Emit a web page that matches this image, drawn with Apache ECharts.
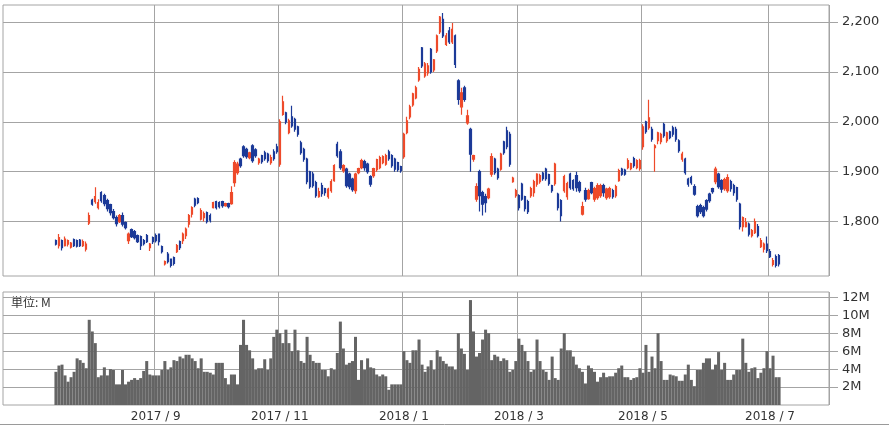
<!DOCTYPE html>
<html>
<head>
<meta charset="utf-8">
<script src="https://cdn.jsdelivr.net/npm/echarts@6/dist/echarts.min.js"></script>
<style>
html,body{margin:0;padding:0;background:#fff;}
#chart{width:889px;height:426px;}
</style>
</head>
<body>
<div id="chart"></div>
<script>
// ---- calendar (Tokyo trading days) ----
const axisStart = '2017-06-21';
const axisCount = 273;
const holidays = ['2017-07-17','2017-08-11','2017-09-18','2017-10-09','2017-11-03','2017-11-23',
  '2018-01-01','2018-01-02','2018-01-03','2018-01-08','2018-02-12','2018-03-21','2018-04-30',
  '2018-05-03','2018-05-04','2018-07-16'];
const firstDate = '2017-07-14';

// ---- tick labels ----
const tickMonths = ['2017-09','2017-11','2018-01','2018-03','2018-05','2018-07'];
const tickLabels = ['2017 / 9','2017 / 11','2018 / 1','2018 / 3','2018 / 5','2018 / 7'];
const priceTicks = [1800,1900,2000,2100,2200];
const volumeTicks = [2,4,6,8,10,12];

// ---- daily prices ----
const open = [
1762,1752,1762,1752,1755,1749,1764,1762,1763,1752,
1745,1797,1843,1840,1828,1858,1852,1842,1834,1820,
1808,1800,1812,1798,1762,1784,1780,1772,1770,1762,
1772,1748,1768,1772,1775,1750,1715,1735,1725,1728,
1740,1760,1762,1772,1795,1815,1845,1846,1805,1808,
1818,1812,1828,1840,1838,1840,1832,1836,1836,1878,
1898,1925,1950,1945,1928,1952,1944,1918,1932,1938,
1935,1918,1940,1950,1915,2015,2018,1978,2010,2005,
1990,1958,1945,1925,1900,1895,1878,1850,1872,1866,
1850,1862,1882,1955,1940,1902,1905,1895,1885,1862,
1898,1908,1920,1915,1890,1892,1904,1908,1918,1915,
1940,1932,1925,1918,1910,1930,1978,2010,2034,2048,
2084,2148,2092,2098,2145,2104,2142,2180,2205,2155,
2182,2160,2172,2082,2030,2068,1998,1985,1925,1845,
1900,1858,1850,1848,1895,1925,1905,1905,1960,1982,
1975,1880,1852,1852,1875,1850,1840,1852,1858,1875,
1880,1897,1905,1894,1872,1876,1855,1842,1862,1850,
1895,1882,1892,1878,1815,1862,1846,1878,1845,1848,
1852,1872,1848,1850,1862,1852,1882,1905,1903,1908,
1906,1926,1908,1906,1950,2000,1988,1985,1948,1962,
1960,1995,1962,1980,1988,1985,1962,1925,1925,1885,
1888,1870,1830,1832,1828,1842,1855,1866,1880,1895,
1882,1866,1862,1880,1872,1868,1835,1790,1790,1795,
1772,1778,1790,1750,1745,1755,1740,1714,1730,1732];
const high = [
1764,1775,1764,1770,1764,1759,1766,1764,1765,1764,
1760,1818,1846,1869,1845,1861,1856,1846,1836,1825,
1812,1815,1818,1800,1778,1786,1783,1774,1772,1765,
1775,1757,1770,1776,1776,1752,1722,1739,1726,1730,
1755,1762,1778,1788,1815,1831,1848,1849,1827,1820,
1820,1816,1840,1842,1841,1842,1838,1838,1871,1923,
1920,1928,1953,1948,1940,1955,1947,1928,1934,1942,
1938,1934,1945,1956,2005,2052,2020,2006,2032,2008,
1992,1962,1948,1928,1902,1900,1882,1868,1878,1868,
1868,1885,1915,1960,1945,1915,1908,1898,1888,1898,
1908,1926,1924,1918,1893,1908,1926,1932,1933,1936,
1944,1935,1928,1920,1912,1978,2010,2034,2058,2072,
2110,2150,2120,2118,2148,2126,2175,2212,2218,2178,
2190,2198,2175,2085,2068,2072,2024,1988,1934,1877,
1904,1862,1856,1868,1937,1928,1908,1938,1962,1990,
1980,1890,1866,1855,1878,1852,1844,1870,1884,1897,
1896,1900,1908,1896,1874,1918,1858,1845,1894,1880,
1898,1885,1900,1882,1840,1868,1866,1880,1870,1877,
1876,1876,1868,1870,1866,1874,1906,1908,1906,1927,
1918,1930,1925,1926,1995,2002,2044,1990,1955,1980,
1978,1998,1980,1982,1992,1990,1965,1940,1928,1888,
1892,1875,1834,1836,1832,1845,1858,1868,1910,1898,
1885,1888,1895,1884,1876,1870,1838,1810,1807,1798,
1785,1806,1795,1767,1758,1770,1745,1727,1734,1735];
const low = [
1752,1746,1742,1750,1750,1746,1749,1748,1749,1749,
1740,1793,1832,1836,1824,1838,1831,1820,1812,1804,
1790,1797,1790,1784,1755,1767,1764,1757,1743,1752,
1757,1741,1755,1758,1752,1736,1712,1716,1708,1712,
1737,1743,1755,1765,1788,1808,1829,1835,1802,1800,
1796,1798,1826,1824,1826,1828,1830,1826,1834,1870,
1894,1908,1928,1926,1925,1918,1928,1914,1916,1922,
1918,1914,1922,1936,1910,2012,1995,1975,1988,1980,
1970,1934,1920,1875,1866,1868,1848,1848,1850,1852,
1846,1858,1880,1928,1904,1898,1868,1865,1860,1856,
1895,1905,1902,1896,1870,1888,1900,1905,1915,1912,
1922,1908,1900,1900,1898,1926,1975,2005,2030,2045,
2080,2108,2088,2092,2096,2100,2138,2176,2168,2152,
2156,2156,2108,2034,2014,2040,1994,1900,1920,1840,
1820,1812,1818,1845,1890,1894,1884,1902,1934,1945,
1910,1878,1848,1822,1842,1820,1815,1848,1850,1870,
1876,1882,1882,1872,1858,1872,1822,1800,1858,1844,
1864,1862,1860,1858,1812,1840,1844,1855,1840,1844,
1848,1850,1844,1846,1846,1848,1880,1892,1892,1905,
1903,1908,1905,1902,1944,1976,1984,1960,1900,1955,
1955,1968,1958,1965,1970,1960,1938,1920,1894,1870,
1874,1852,1808,1815,1808,1820,1838,1856,1875,1866,
1858,1862,1858,1860,1852,1840,1784,1780,1788,1770,
1768,1775,1768,1747,1738,1737,1727,1710,1708,1710];
const close = [
1755,1768,1748,1765,1762,1757,1752,1751,1752,1760,
1755,1812,1835,1850,1838,1842,1836,1826,1818,1808,
1796,1812,1795,1788,1775,1770,1768,1760,1752,1756,
1760,1755,1760,1762,1760,1740,1720,1720,1712,1716,
1752,1748,1775,1785,1812,1828,1833,1838,1822,1816,
1800,1803,1838,1828,1830,1832,1836,1830,1858,1918,
1915,1912,1932,1930,1938,1922,1932,1925,1920,1926,
1922,1928,1926,1940,2000,2040,2000,2002,1992,1985,
1975,1938,1925,1880,1870,1872,1852,1860,1856,1858,
1865,1880,1912,1932,1908,1912,1872,1870,1864,1895,
1906,1922,1908,1900,1875,1906,1924,1928,1930,1932,
1926,1912,1905,1904,1902,1975,2002,2030,2056,2068,
2105,2112,2116,2112,2100,2124,2172,2210,2172,2172,
2160,2185,2115,2045,2058,2045,2012,1935,1932,1870,
1852,1835,1838,1865,1930,1898,1888,1935,1938,1950,
1915,1887,1862,1828,1845,1826,1820,1866,1880,1895,
1892,1886,1886,1876,1862,1915,1828,1812,1890,1876,
1868,1866,1868,1862,1830,1845,1862,1858,1866,1872,
1872,1858,1865,1866,1850,1870,1902,1895,1895,1922,
1916,1912,1922,1922,1990,1980,2008,1965,1952,1978,
1975,1972,1978,1968,1975,1965,1942,1935,1898,1875,
1878,1855,1812,1820,1812,1825,1842,1860,1905,1870,
1865,1884,1888,1866,1858,1845,1790,1808,1798,1775,
1782,1800,1772,1762,1755,1742,1730,1722,1712,1715];
// volume in millions of shares
const volume = [
3.7,4.4,4.5,3.3,2.6,3.1,3.7,5.2,5.0,4.7,
4.1,9.5,8.2,6.9,3.1,3.3,4.2,3.3,4.0,3.9,
2.3,2.3,3.9,2.3,2.6,2.8,3.0,2.8,3.0,3.8,
4.9,3.4,3.3,3.3,3.3,3.9,4.9,3.9,4.2,5.0,
4.9,5.4,5.2,5.6,5.6,5.2,4.9,4.1,5.2,3.7,
3.7,3.6,3.4,4.7,4.7,4.7,3.0,2.3,3.4,3.4,
2.3,6.7,9.5,6.7,6.1,5.2,3.9,4.1,4.1,5.1,
3.9,5.2,7.6,8.4,8.0,6.9,8.4,6.9,6.0,8.4,
6.1,4.9,4.7,7.6,5.6,4.9,4.7,4.7,3.9,3.9,
3.2,4.1,3.9,5.8,9.3,6.3,4.5,4.7,4.9,7.6,
2.8,5.0,3.9,5.2,4.2,4.1,3.4,3.2,3.4,3.2,
1.7,2.3,2.3,2.3,2.3,6.0,5.0,4.7,6.1,6.1,
7.3,4.5,3.7,4.3,5.0,3.9,6.1,5.4,4.9,4.6,
4.3,4.3,3.9,8.0,6.3,5.7,3.9,11.7,8.2,5.4,
5.8,7.3,8.4,8.0,5.0,5.6,5.4,4.9,5.2,5.0,
3.7,3.9,4.9,7.4,6.7,6.0,4.9,3.7,3.9,7.3,
4.9,3.9,3.7,2.8,5.4,3.0,2.8,6.3,8.0,6.1,
6.1,5.4,4.5,4.1,3.7,2.4,4.4,4.1,3.7,2.6,
3.1,3.6,3.1,3.2,3.2,3.6,4.1,4.4,3.1,3.1,
2.8,3.0,3.1,4.1,3.6,6.7,3.7,5.4,4.1,8.0,
4.9,2.8,2.8,3.4,3.3,3.2,2.7,2.7,3.4,4.5,
2.8,2.1,3.9,3.9,4.7,5.2,5.2,3.9,4.5,5.9,
3.9,4.7,2.8,2.8,3.4,3.9,3.9,7.4,4.7,3.7,
4.1,4.2,3.0,3.6,4.1,6.0,4.1,5.5,3.1,3.1];

// ---- build category axis (trading days) ----
function tradingDays(start, count, hol) {
  const out = [];
  const d = new Date(start + 'T00:00:00Z');
  while (out.length < count) {
    const wd = d.getUTCDay();
    const s = d.toISOString().slice(0, 10);
    if (wd !== 0 && wd !== 6 && hol.indexOf(s) < 0) out.push(s);
    d.setUTCDate(d.getUTCDate() + 1);
  }
  return out;
}
const categories = tradingDays(axisStart, axisCount, holidays);
const offset = categories.indexOf(firstDate);
const tickIndex = {};
tickMonths.forEach((m, k) => {
  const i = categories.findIndex(c => c.slice(0, 7) === m);
  if (i >= 0) tickIndex[i] = tickLabels[k];
});
const isTick = (i) => tickIndex.hasOwnProperty(i);

const candleData = categories.map((c, i) => {
  const d = i - offset;
  return (d >= 0 && d < open.length) ? [open[d], close[d], low[d], high[d]] : '-';
});
const volumeData = categories.map((c, i) => {
  const d = i - offset;
  return (d >= 0 && d < volume.length) ? volume[d] : '-';
});

const GRID = '#a4a4a4';
const TXT = '#333';
const FONT = 'DejaVu Sans';
const UP = '#ee4a2a';
const DOWN = '#1c3a98';

const chart = echarts.init(document.getElementById('chart'), null, {renderer: 'canvas'});
chart.setOption({
  animation: false,
  backgroundColor: '#fff',
  grid: [
    {left: 3, right: 60, top: 5, height: 271, show: true, borderColor: GRID, borderWidth: 1, backgroundColor: 'transparent'},
    {left: 3, right: 60, top: 292, height: 113, show: true, borderColor: GRID, borderWidth: 1, backgroundColor: 'transparent'}
  ],
  xAxis: [
    {type: 'category', gridIndex: 0, data: categories, boundaryGap: true,
     axisLine: {show: false}, axisTick: {show: false}, axisLabel: {show: false},
     splitLine: {show: true, interval: (i) => isTick(i), lineStyle: {color: GRID, width: 1}}},
    {type: 'category', gridIndex: 1, data: categories, boundaryGap: true,
     axisLine: {show: false}, axisTick: {show: false},
     axisLabel: {show: true, interval: (i) => isTick(i), formatter: (v, i) => tickIndex[i] || '',
       color: TXT, fontSize: 12, fontFamily: FONT, margin: 6},
     splitLine: {show: true, interval: (i) => isTick(i), lineStyle: {color: GRID, width: 1}}}
  ],
  yAxis: [
    {type: 'value', gridIndex: 0, position: 'right', min: 1691, max: 2234,
     axisLine: {show: false},
     axisTick: {show: true, length: 9, customValues: priceTicks, lineStyle: {color: GRID}},
     axisLabel: {customValues: priceTicks, color: TXT, fontSize: 13, fontFamily: FONT, margin: 13,
       formatter: (v) => v.toLocaleString('en-US')},
     splitLine: {show: true, lineStyle: {color: GRID, width: 1}}},
    {type: 'value', gridIndex: 1, position: 'right', min: 0, max: 12.6,
     axisLine: {show: false},
     axisTick: {show: true, length: 9, customValues: volumeTicks, lineStyle: {color: GRID}},
     axisLabel: {customValues: volumeTicks, color: TXT, fontSize: 13, fontFamily: FONT, margin: 13,
       formatter: (v) => v + 'M'},
     splitLine: {show: true, lineStyle: {color: GRID, width: 1}}}
  ],
  graphic: [
    {type: 'text', left: 11, top: 296, style: {text: '単位: M', fill: TXT, font: '12px "Noto Sans CJK JP"'}},
    {type: 'line', shape: {x1: 0, y1: 424.5, x2: 889, y2: 424.5}, style: {stroke: '#9a9a9a', lineWidth: 1}}
  ],
  series: [
    {type: 'candlestick', xAxisIndex: 0, yAxisIndex: 0, data: candleData, barWidth: 1.8,
     itemStyle: {color: UP, color0: DOWN, borderColor: UP, borderColor0: DOWN, borderWidth: 1.2}},
    {type: 'bar', xAxisIndex: 1, yAxisIndex: 1, data: volumeData, barWidth: '100%', barCategoryGap: '0%',
     itemStyle: {color: '#646464'}}
  ]
});
</script>
</body>
</html>
